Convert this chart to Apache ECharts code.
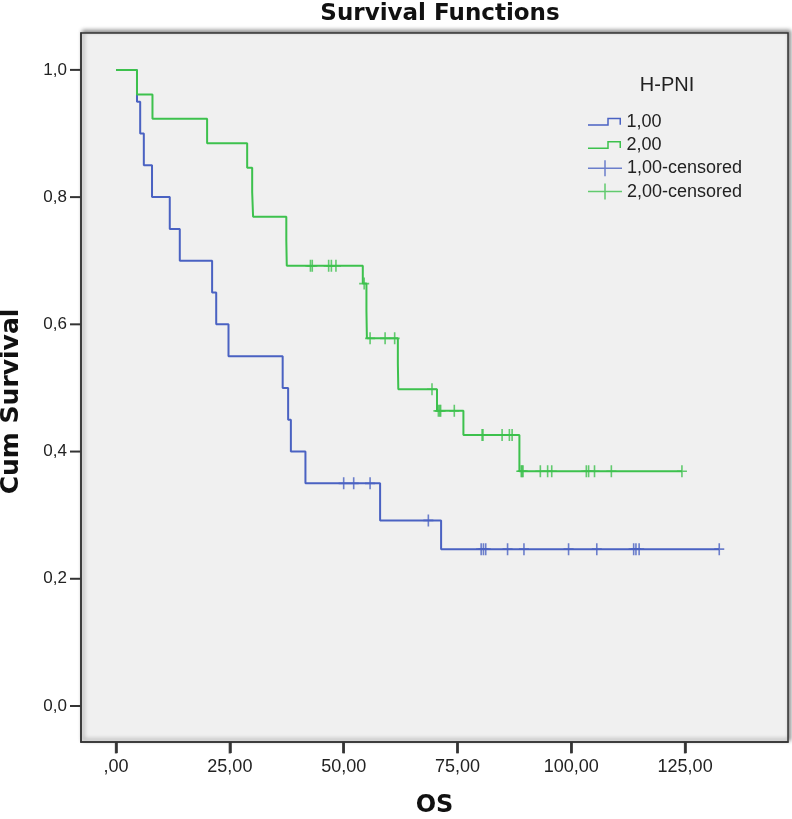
<!DOCTYPE html>
<html>
<head>
<meta charset="utf-8">
<script src="https://cdn.jsdelivr.net/npm/echarts@6/dist/echarts.min.js"></script>
<style>
html,body{margin:0;padding:0;background:#fff;}
#chart{width:792px;height:819px;}
</style>
</head>
<body>
<div id="chart"></div>
<script>
// Kaplan-Meier step points: [time, survival after event]
const group1Steps = [
  [0, 1.0], [4.6, 0.95], [5.3, 0.90], [6.1, 0.85], [7.9, 0.80], [11.8, 0.75],
  [14.0, 0.70], [21.1, 0.65], [22.0, 0.60], [24.7, 0.55], [36.6, 0.50],
  [37.8, 0.45], [38.4, 0.40], [41.6, 0.35], [58.0, 0.2917], [71.4, 0.2465],
  [132.5, 0.2465]
];
const group2Steps = [
  [0, 1.0], [4.6, 0.9615], [8.0, 0.923], [20.0, 0.8846], [28.8, 0.846],
  [29.9, 0.808], [30.1, 0.769], [37.4, 0.731], [37.5, 0.692], [54.2, 0.664],
  [55.0, 0.621], [55.1, 0.578], [61.9, 0.538], [62.0, 0.498], [70.5, 0.464],
  [76.3, 0.426], [88.6, 0.369], [124.3, 0.369]
];
// censored observations: [time, survival]
const group1Censored = [
  [50.0, 0.35], [52.2, 0.35], [55.8, 0.35], [68.6, 0.2917],
  [80.2, 0.2465], [80.7, 0.2465], [81.2, 0.2465], [86.0, 0.2465], [89.6, 0.2465],
  [99.4, 0.2465], [105.6, 0.2465], [113.7, 0.2465], [114.2, 0.2465], [114.9, 0.2465],
  [132.5, 0.2465]
];
const group2Censored = [
  [42.7, 0.692], [43.1, 0.692], [46.7, 0.692], [47.3, 0.692], [48.3, 0.692],
  [54.5, 0.664], [55.8, 0.578], [59.1, 0.578], [61.2, 0.578], [69.4, 0.498],
  [70.8, 0.464], [71.1, 0.464], [71.3, 0.464], [74.3, 0.464],
  [80.4, 0.426], [80.6, 0.426], [84.8, 0.426], [86.4, 0.426], [87.0, 0.426],
  [89.0, 0.369], [89.2, 0.369], [89.4, 0.369], [93.2, 0.369], [94.8, 0.369], [95.7, 0.369],
  [103.3, 0.369], [103.8, 0.369], [105.1, 0.369], [108.8, 0.369], [124.3, 0.369]
];
const seriesNames = ['1,00', '2,00', '1,00-censored', '2,00-censored'];
const xTicks = [0, 25, 50, 75, 100, 125];
const yTicks = [0, 0.2, 0.4, 0.6, 0.8, 1.0];
const xRange = [-7.7, 147.6];
const yRange = [-0.0566, 1.058];

const blue = '#4a62c2';
const green = '#3dc14d';
const axisColor = '#333';
const plusPath = 'path://M0,7.25h34v1.5h-34z M16.25,0h1.5v16h-1.5z';
const stepIcon = 'path://M0,6.5H19.25V0H33V7H31.5V1.5H20.75V8H0Z';
const markPath = 'path://M0,5h10v1.6h-10z M4.2,0h1.6v11.6h-1.6z';

// y tick marks: custom series placed through the axis scale at the grid's left edge
function yTickSeries(values) {
  return {
    type: 'custom', silent: true, z: 50, zlevel: 1, clip: false,
    data: values.map(v => [50, v]),
    renderItem: function (params, api) {
      const cs = params.coordSys;
      const p = api.coord([api.value(0), api.value(1)]);
      return {
        type: 'rect',
        shape: {x: cs.x - 11, y: p[1] - 1, width: 10.5, height: 2},
        style: {fill: axisColor}
      };
    }
  };
}
// x tick marks: small vertical bar symbols at the tick values on the bottom edge
function xTickSeries(values) {
  return {
    type: 'scatter', silent: true, z: 50, zlevel: 1, clip: false,
    data: values.map(v => [v, yRange[0]]),
    symbol: 'rect', symbolSize: [2.5, 11], symbolOffset: [0, 6],
    itemStyle: {color: axisColor}, emphasis: {disabled: true}
  };
}

const chart = echarts.init(document.getElementById('chart'), null, {renderer: 'canvas'});
chart.setOption({
  backgroundColor: '#ffffff',
  animation: false,
  title: [
    {
      text: 'Survival Functions', left: 440, top: 3, padding: 0, textAlign: 'center', textVerticalAlign: 'top',
      textStyle: {fontFamily: 'DejaVu Sans', fontWeight: 'bold', fontSize: 23, color: '#111'}
    },
    {
      text: 'H-PNI', left: 667, top: 75, padding: 0, textAlign: 'center', textVerticalAlign: 'top',
      textStyle: {fontFamily: 'Liberation Sans', fontWeight: 'normal', fontSize: 20, color: '#222'}
    }
  ],
  legend: [
    {
      data: [seriesNames[0], seriesNames[1]], orient: 'vertical', left: 588, top: 111.7,
      padding: 0, itemWidth: 34, itemHeight: 8, itemGap: 3.3, icon: stepIcon, selectedMode: false,
      textStyle: {fontFamily: 'Liberation Sans', fontSize: 18, color: '#222', lineHeight: 20}
    },
    {
      data: [seriesNames[2], seriesNames[3]], orient: 'vertical', left: 588, top: 158.3,
      padding: 0, itemWidth: 34, itemHeight: 16, itemGap: 3.3, icon: plusPath, selectedMode: false,
      textStyle: {fontFamily: 'Liberation Sans', fontSize: 18, color: '#222', lineHeight: 20}
    }
  ],
  grid: {
    left: 81, right: 4, top: 33, bottom: 77,
    containLabel: false, outerBoundsMode: 'none',
    show: true, backgroundColor: '#f0f0f0', borderColor: axisColor, borderWidth: 1.5,
    shadowColor: 'rgba(0,0,0,0.45)', shadowBlur: 4, shadowOffsetX: 2, shadowOffsetY: -2
  },
  xAxis: {
    type: 'value', min: xRange[0], max: xRange[1],
    name: 'OS', nameLocation: 'middle', nameGap: 52,
    nameTextStyle: {fontFamily: 'DejaVu Sans', fontWeight: 'bold', fontSize: 24, color: '#111'},
    axisLine: {show: true, onZero: false, lineStyle: {color: axisColor, width: 1.5}},
    axisTick: {show: true, length: 11, customValues: xTicks, lineStyle: {color: axisColor, width: 2.5}},
    axisLabel: {
      customValues: xTicks, margin: 16,
      fontFamily: 'Liberation Sans', fontSize: 18, color: '#222',
      formatter: v => v === 0 ? ',00' : v.toFixed(2).replace('.', ',')
    },
    splitLine: {show: false}
  },
  yAxis: {
    type: 'value', min: yRange[0], max: yRange[1],
    name: 'Cum Survival', nameLocation: 'middle', nameRotate: 90, nameGap: 57,
    nameTextStyle: {fontFamily: 'DejaVu Sans', fontWeight: 'bold', fontSize: 25, color: '#111', padding: [0, 28, 0, 0]},
    axisLine: {show: true, onZero: false, lineStyle: {color: axisColor, width: 1.5}},
    axisTick: {show: false},
    axisLabel: {
      customValues: yTicks, margin: 14,
      fontFamily: 'Liberation Sans', fontSize: 17, color: '#222',
      formatter: v => v.toFixed(1).replace('.', ',')
    },
    splitLine: {show: false}
  },
  series: [
    {
      name: seriesNames[0], type: 'line', step: 'end', data: group1Steps,
      showSymbol: false, symbol: 'none', color: blue,
      lineStyle: {color: blue, width: 2}, z: 3
    },
    {
      name: seriesNames[1], type: 'line', step: 'end', data: group2Steps,
      showSymbol: false, symbol: 'none', color: green,
      lineStyle: {color: green, width: 2}, z: 3
    },
    {
      name: seriesNames[2], type: 'scatter', data: group1Censored, color: blue,
      symbol: markPath, symbolSize: [10, 12], itemStyle: {color: blue}, z: 4
    },
    {
      name: seriesNames[3], type: 'scatter', data: group2Censored, color: green,
      symbol: markPath, symbolSize: [10, 12], itemStyle: {color: green}, z: 4
    },
    xTickSeries(xTicks),
    yTickSeries(yTicks)
  ]
});
</script>
</body>
</html>
